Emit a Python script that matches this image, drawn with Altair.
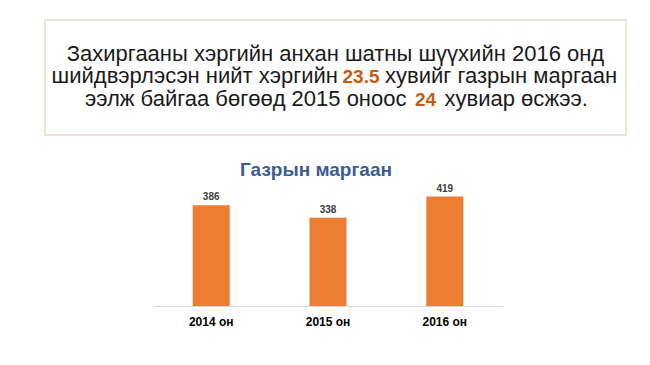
import altair as alt
import pandas as pd

# ---- data ----
years = ["2014 он", "2015 он", "2016 он"]
cases = [386, 338, 419]

chart_title = "Газрын маргаан"
line1 = "Захиргааны хэргийн анхан шатны шүүхийн 2016 онд"
line2_a = "шийдвэрлэсэн нийт хэргийн"
line2_num = "23.5"
line2_b = "хувийг газрын маргаан"
line3_a = "ээлж байгаа бөгөөд 2015 оноос"
line3_num = "24"
line3_b = "хувиар өсжээ."

df = pd.DataFrame({"year": years, "value": cases})
one = pd.DataFrame({"k": [0]})

FONT = "Liberation Sans"
W, H = 581, 286
BAR = "#ED7D31"
NUM = "#C55A11"

x = alt.X("year:N", sort=years, title=None,
          scale=alt.Scale(range=[108, 458], paddingInner=0.683, paddingOuter=0.34),
          axis=alt.Axis(labelAngle=0, labelFont=FONT, labelFontSize=12, labelFontWeight="bold",
                        labelColor="#000000", ticks=False, tickSize=0, labelPadding=10,
                        domainColor="#d9d9d9", domainWidth=1, grid=False))
y = alt.Y("value:Q", title=None, scale=alt.Scale(domain=[0, 450], range=[286, 168.5]), axis=None)

bars = alt.Chart(df).mark_bar(color=BAR).encode(x=x, y=y)
labels = alt.Chart(df).mark_text(font=FONT, fontSize=10, fontWeight="bold", color="#404040",
                                 baseline="alphabetic", dy=-5).encode(
    x=alt.X("year:N", sort=years), y="value:Q", text="value:Q")

box = alt.Chart(one).mark_rect(fill="white", stroke="#e6d9cb", strokeWidth=1.5).encode(
    x=alt.value(0), x2=alt.value(581), y=alt.value(0), y2=alt.value(115))


def txt(s, xpos, ypos, align, color="#1a1a1a", weight="normal", size=22):
    return alt.Chart(one).mark_text(text=s, font=FONT, fontSize=size, fontWeight=weight,
                                    color=color, align=align, baseline="alphabetic").encode(
        x=alt.value(xpos), y=alt.value(ypos))


texts = [
    txt(line1, 290.5, 40.6, "center"),
    txt(line2_a, 293, 63.4, "right"),
    txt(line2_num, 316, 63.4, "center", NUM, "bold", 19),
    txt(line2_b, 340, 63.4, "left"),
    txt(line3_a, 361.5, 86.4, "right"),
    txt(line3_num, 380.5, 86.4, "center", NUM, "bold", 19),
    txt(line3_b, 399.5, 86.4, "left"),
    txt(chart_title, 271, 156, "center", "#3B5B94", "bold", 19),
]

chart = alt.layer(box, bars, labels, *texts).properties(
    width=W, height=H,
    padding={"left": 36, "top": 11, "right": 10, "bottom": 10},
    background="white",
).configure_view(stroke=None)

chart.save("out.html", embed_options={"renderer": "svg", "actions": False})
